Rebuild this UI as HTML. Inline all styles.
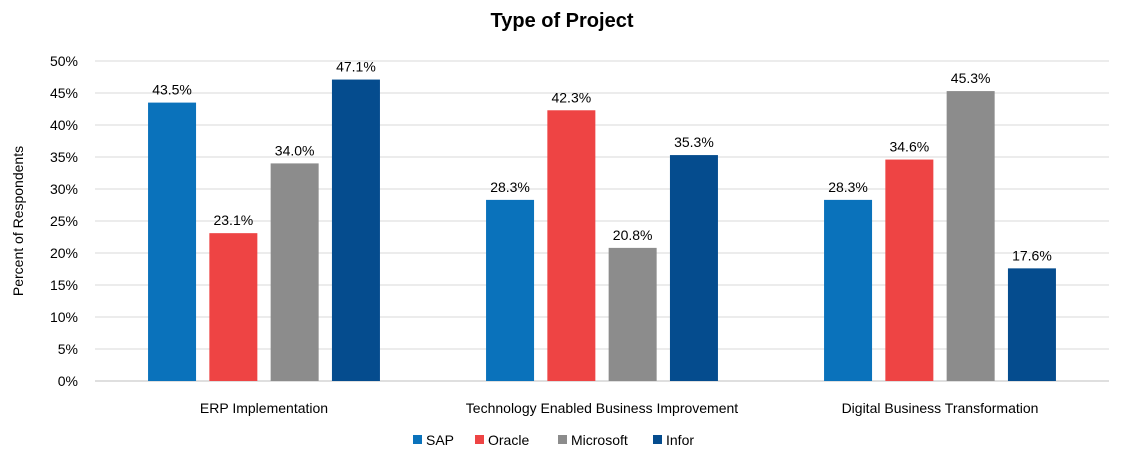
<!DOCTYPE html>
<html><head><meta charset="utf-8">
<style>
html,body{margin:0;padding:0;background:#fff;}
svg{display:block;font-family:"Liberation Sans",Arial,sans-serif;}
</style></head>
<body>
<svg id="chart" width="1124" height="465" viewBox="0 0 1124 465" xmlns="http://www.w3.org/2000/svg">
  <text x="562" y="27" text-anchor="middle" font-size="20" font-weight="bold" fill="#000">Type of Project</text>
  <text transform="translate(23,221) rotate(-90)" text-anchor="middle" font-size="14" fill="#000">Percent of Respondents</text>
  <g id="grid"></g>
  <g id="yticks"></g>
  <g id="bars"></g>
  <g id="xlabels"></g>
  <g id="legend"></g>
</svg>
<script>
const categories = ["ERP Implementation","Technology Enabled Business Improvement","Digital Business Transformation"];
const seriesNames = ["SAP","Oracle","Microsoft","Infor"];
const sapValues = [43.5, 28.3, 28.3];
const oracleValues = [23.1, 42.3, 34.6];
const microsoftValues = [34.0, 20.8, 45.3];
const inforValues = [47.1, 35.3, 17.6];
const yTicks = [0,5,10,15,20,25,30,35,40,45,50];

const seriesValues = [sapValues, oracleValues, microsoftValues, inforValues];
const colors = ["#0a72bb","#ee4444","#8c8c8c","#054c8e"];
const NS = "http://www.w3.org/2000/svg";
const plotL = 95, plotR = 1109, plotT = 61, plotB = 381;
const yMax = 50;
function yScale(v){ return plotB - (v / yMax) * (plotB - plotT); }
const groupW = (plotR - plotL) / categories.length;
function xGroup(i){ return plotL + groupW * i; }
const barW = 48, barStep = 61.3;
function mk(tag, attrs, parent){ const e = document.createElementNS(NS, tag); for (const k in attrs) e.setAttribute(k, attrs[k]); parent.appendChild(e); return e; }

const grid = document.getElementById('grid');
const yt = document.getElementById('yticks');
yTicks.forEach(t => {
  const y = yScale(t);
  const l = mk('line', {x1: plotL, x2: plotR, y1: y, y2: y, stroke: t === 0 ? '#bfbfbf' : '#d9d9d9', 'stroke-width': 1}, grid);
  
  
  const tx = mk('text', {x: 78, y: y + 5, 'text-anchor': 'end', 'font-size': 14, fill: '#000'}, yt);
  tx.textContent = t + '%';
  
  
});

const bars = document.getElementById('bars');
const xl = document.getElementById('xlabels');
categories.forEach((c, i) => {
  const center = xGroup(i) + groupW / 2;
  const start = center - (barStep * 3 + barW) / 2;
  seriesValues.forEach((vals, s) => {
    const v = vals[i];
    const x = start + s * barStep;
    const y = yScale(v);
    const r = mk('rect', {x: x, y: y, width: barW, height: plotB - y, fill: colors[s]}, bars);
    
    
    const lb = mk('text', {x: x + barW / 2, y: y - 8, 'text-anchor': 'middle', 'font-size': 14, fill: '#000'}, bars);
    lb.textContent = v.toFixed(1) + '%';
    
    
  });
  const t = mk('text', {x: center, y: 413, 'text-anchor': 'middle', 'font-size': 14, fill: '#000'}, xl);
  t.textContent = c;
  
  
});

const legend = document.getElementById('legend');
const legendX = [413, 475, 558, 653];
seriesNames.forEach((n, s) => {
  const g = mk('g', {}, legend);
  
  
  mk('rect', {x: legendX[s], y: 435, width: 9, height: 9, fill: colors[s]}, g);
  const t = mk('text', {x: legendX[s] + 13, y: 445, 'font-size': 14, fill: '#000'}, g);
  t.textContent = n;
});
</script>
</body></html>
